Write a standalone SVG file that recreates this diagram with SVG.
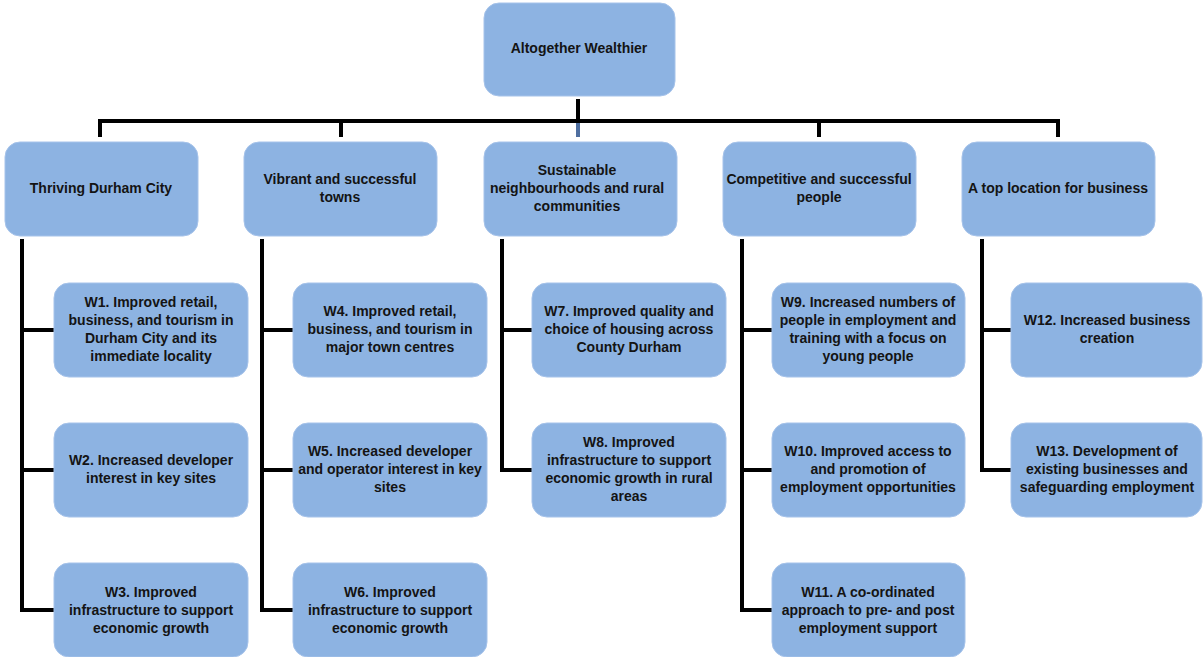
<svg xmlns="http://www.w3.org/2000/svg" width="1203" height="657" viewBox="0 0 1203 657">
<style>
.box{fill:#8db3e2;stroke:#a6c3ea;stroke-width:1}
.ln{stroke:#000;stroke-width:4;fill:none;stroke-linecap:butt}
text{font-family:"Liberation Sans",Arial,sans-serif;font-weight:bold;font-size:14px;fill:#141414;text-anchor:middle}
</style>
<rect width="1203" height="657" fill="#fff"/>
<g id="connectors">
<path class="ln" d="M578 99V121M100 137V121H1058V137M341 121V137M819 121V137"/>
<rect x="576" y="123" width="4" height="14" fill="#4f6fa0"/>
<path class="ln" d="M22 239V610H54M22 330H54M22 470H54"/>
<path class="ln" d="M262 239V610H294M262 330H294M262 470H294"/>
<path class="ln" d="M502 239V470H533M502 330H533"/>
<path class="ln" d="M742 239V610H773M742 330H773M742 470H773"/>
<path class="ln" d="M982 239V470H1012M982 330H1012"/>
</g>
<g id="root"><rect class="box" x="484" y="3" width="191" height="93" rx="15"/><text x="579" y="53">Altogether Wealthier</text></g>
<g id="h1"><rect class="box" x="5" y="142" width="193" height="94" rx="15"/><text x="101" y="193">Thriving Durham City</text></g>
<g id="h2"><rect class="box" x="244" y="142" width="193" height="94" rx="15"/><text x="340" y="184">Vibrant and successful</text><text x="340" y="202">towns</text></g>
<g id="h3"><rect class="box" x="484" y="142" width="193" height="94" rx="15"/><text x="577" y="175">Sustainable</text><text x="577" y="193">neighbourhoods and rural</text><text x="577" y="211">communities</text></g>
<g id="h4"><rect class="box" x="723" y="142" width="193" height="94" rx="15"/><text x="819" y="184">Competitive and successful</text><text x="819" y="202">people</text></g>
<g id="h5"><rect class="box" x="962" y="142" width="193" height="94" rx="15"/><text x="1058" y="193">A top location for business</text></g>

<g id="w1"><rect class="box" x="54" y="283" width="194" height="94" rx="15"/><text x="151" y="307">W1. Improved retail,</text><text x="151" y="325">business, and tourism in</text><text x="151" y="343">Durham City and its</text><text x="151" y="361">immediate locality</text></g>
<g id="w2"><rect class="box" x="54" y="423" width="194" height="94" rx="15"/><text x="151" y="465">W2. Increased developer</text><text x="151" y="483">interest in key sites</text></g>
<g id="w3"><rect class="box" x="54" y="563" width="194" height="94" rx="15"/><text x="151" y="597">W3. Improved</text><text x="151" y="615">infrastructure to support</text><text x="151" y="633">economic growth</text></g>

<g id="w4"><rect class="box" x="293" y="283" width="194" height="94" rx="15"/><text x="390" y="316">W4. Improved retail,</text><text x="390" y="334">business, and tourism in</text><text x="390" y="352">major town centres</text></g>
<g id="w5"><rect class="box" x="293" y="423" width="194" height="94" rx="15"/><text x="390" y="456">W5. Increased developer</text><text x="390" y="474">and operator interest in key</text><text x="390" y="492">sites</text></g>
<g id="w6"><rect class="box" x="293" y="563" width="194" height="94" rx="15"/><text x="390" y="597">W6. Improved</text><text x="390" y="615">infrastructure to support</text><text x="390" y="633">economic growth</text></g>

<g id="w7"><rect class="box" x="532" y="283" width="194" height="94" rx="15"/><text x="629" y="316">W7. Improved quality and</text><text x="629" y="334">choice of housing across</text><text x="629" y="352">County Durham</text></g>
<g id="w8"><rect class="box" x="532" y="423" width="194" height="94" rx="15"/><text x="629" y="447">W8. Improved</text><text x="629" y="465">infrastructure to support</text><text x="629" y="483">economic growth in rural</text><text x="629" y="501">areas</text></g>

<g id="w9"><rect class="box" x="772" y="283" width="193" height="94" rx="15"/><text x="868" y="307">W9. Increased numbers of</text><text x="868" y="325">people in employment and</text><text x="868" y="343">training with a focus on</text><text x="868" y="361">young people</text></g>
<g id="w10"><rect class="box" x="772" y="423" width="193" height="94" rx="15"/><text x="868" y="456">W10. Improved access to</text><text x="868" y="474">and promotion of</text><text x="868" y="492">employment opportunities</text></g>
<g id="w11"><rect class="box" x="772" y="563" width="193" height="94" rx="15"/><text x="868" y="597">W11. A co-ordinated</text><text x="868" y="615">approach to pre- and post</text><text x="868" y="633">employment support</text></g>

<g id="w12"><rect class="box" x="1011" y="283" width="191" height="94" rx="15"/><text x="1107" y="325">W12. Increased business</text><text x="1107" y="343">creation</text></g>
<g id="w13"><rect class="box" x="1011" y="423" width="191" height="94" rx="15"/><text x="1107" y="456">W13. Development of</text><text x="1107" y="474">existing businesses and</text><text x="1107" y="492">safeguarding employment</text></g>
</svg>
